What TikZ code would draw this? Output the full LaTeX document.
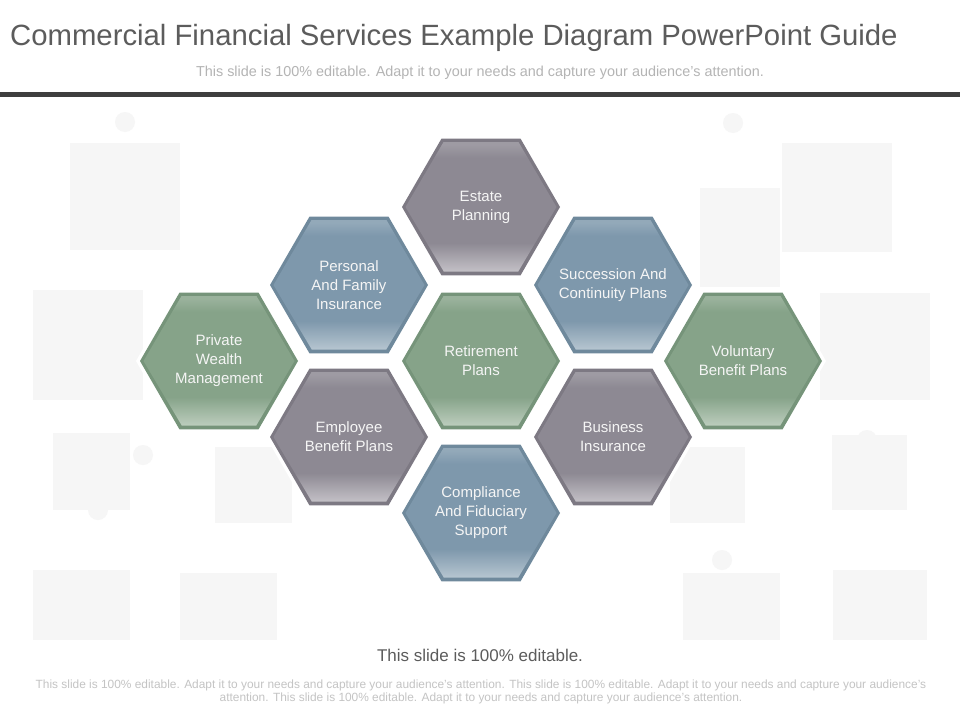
\documentclass[tikz,border=0pt]{standalone}
\usepackage{fontspec}
\setmainfont{Liberation Sans}
\usetikzlibrary{calc}
\definecolor{grayBase}{HTML}{8D8993}
\definecolor{grayDark}{HTML}{7D7983}
\definecolor{grayTop}{HTML}{9E9BA3}
\definecolor{grayLow}{HTML}{C3C0C6}
\definecolor{blueBase}{HTML}{7E98AC}
\definecolor{blueDark}{HTML}{6F899C}
\definecolor{blueTop}{HTML}{93A9B9}
\definecolor{blueLow}{HTML}{B6C5D0}
\definecolor{greenBase}{HTML}{86A389}
\definecolor{greenDark}{HTML}{76947A}
\definecolor{greenTop}{HTML}{9AB29C}
\definecolor{greenLow}{HTML}{BCCDBD}
\definecolor{titleGray}{HTML}{5C5C5C}
\definecolor{subGray}{HTML}{B4B4B4}
\definecolor{footGray}{HTML}{C4C4C4}
\definecolor{barGray}{HTML}{3E3E3E}
\definecolor{puzzle}{HTML}{F6F6F6}
\definecolor{hexText}{HTML}{F5F5F5}
\pgfdeclareverticalshading{hexgray}{100bp}{color(0bp)=(grayLow); color(25bp)=(grayLow); color(36bp)=(grayBase); color(69bp)=(grayBase); color(74bp)=(grayTop); color(100bp)=(grayTop)}
\pgfdeclareverticalshading{hexblue}{100bp}{color(0bp)=(blueLow); color(25bp)=(blueLow); color(36bp)=(blueBase); color(69bp)=(blueBase); color(74bp)=(blueTop); color(100bp)=(blueTop)}
\pgfdeclareverticalshading{hexgreen}{100bp}{color(0bp)=(greenLow); color(25bp)=(greenLow); color(36bp)=(greenBase); color(69bp)=(greenBase); color(74bp)=(greenTop); color(100bp)=(greenTop)}
\tikzset{
  hexlabel/.style={text=hexText, font=\fontsize{15}{19}\selectfont, align=center, inner sep=0pt},
  piece/.style={fill=puzzle},
  knob/.style={fill=puzzle},
  foot/.style={anchor=base, text=footGray, font=\fontsize{11.9}{13}\selectfont, inner sep=0pt},
}
\newcommand\HexCell[5]{%
  \fill[white] (#2,#3) +(0:83) -- +(60:83) -- +(120:83) -- +(180:83) -- +(240:83) -- +(300:83) -- cycle;
  \fill[#4Dark] (#2,#3) +(0:79) -- +(60:79) -- +(120:79) -- +(180:79) -- +(240:79) -- +(300:79) -- cycle;
  \shade[shading=hex#4] (#2,#3) +(0:75.5) -- +(60:74.5) -- +(120:74.5) -- +(180:75.5) -- +(240:75) -- +(300:75) -- cycle;
  \node[hexlabel] (#1) at (#2,#3) {#5};
}
\begin{document}
\begin{tikzpicture}[x=1pt,y=-1pt]
\useasboundingbox (0,0) rectangle (960,720);
\fill[white] (0,0) rectangle (960,720);
% faint puzzle background
\foreach \a/\b/\c/\d in {70/143/180/250, 33/290/143/400, 53/433/130/510, 33/570/130/640, 180/573/277/640, 215/447/292/523,
  782/143/892/252, 700/188/780/287, 820/293/930/400, 832/435/907/510, 833/570/927/640, 683/573/780/640, 670/447/745/523}
  {\fill[piece] (\a,\b) rectangle (\c,\d);}
\foreach \p/\q in {125/122, 85/198, 52/318, 98/510, 143/455, 733/123, 765/198, 727/233, 703/495, 867/440, 722/560}
  {\fill[knob] (\p,\q) circle (10);}
% header
\node[anchor=base west, text=titleGray, font=\fontsize{29.3}{32}\selectfont, inner sep=0pt] (title) at (10,45) {Commercial Financial Services Example Diagram PowerPoint Guide};
\node[anchor=base, text=subGray, font=\fontsize{14.4}{16}\selectfont, inner sep=0pt] (subtitle) at (480,76) {This slide is 100\% editable. Adapt it to your needs and capture your audience's attention.};
\fill[barGray] (0,92) rectangle (960,97);
% hexagons
\HexCell{estate}{481}{207}{gray}{Estate\\Planning}
\HexCell{personal}{349}{285}{blue}{Personal\\And Family\\Insurance}
\HexCell{succession}{613}{285}{blue}{Succession And\\Continuity Plans}
\HexCell{private}{219}{361}{green}{Private\\Wealth\\Management}
\HexCell{retirement}{481}{361}{green}{Retirement\\Plans}
\HexCell{voluntary}{743}{361}{green}{Voluntary\\Benefit Plans}
\HexCell{employee}{349}{437}{gray}{Employee\\Benefit Plans}
\HexCell{business}{613}{437}{gray}{Business\\Insurance}
\HexCell{compliance}{481}{513}{blue}{Compliance\\And Fiduciary\\Support}
% footer
\node[anchor=base, text=titleGray, font=\fontsize{17}{20}\selectfont, inner sep=0pt] (editable) at (480,661) {This slide is 100\% editable.};
\node[foot] (footA) at (481,688) {This slide is 100\% editable. Adapt it to your needs and capture your audience's attention. This slide is 100\% editable. Adapt it to your needs and capture your audience's};
\node[foot] (footB) at (481,701) {attention. This slide is 100\% editable. Adapt it to your needs and capture your audience's attention.};
\end{tikzpicture}
\end{document}
